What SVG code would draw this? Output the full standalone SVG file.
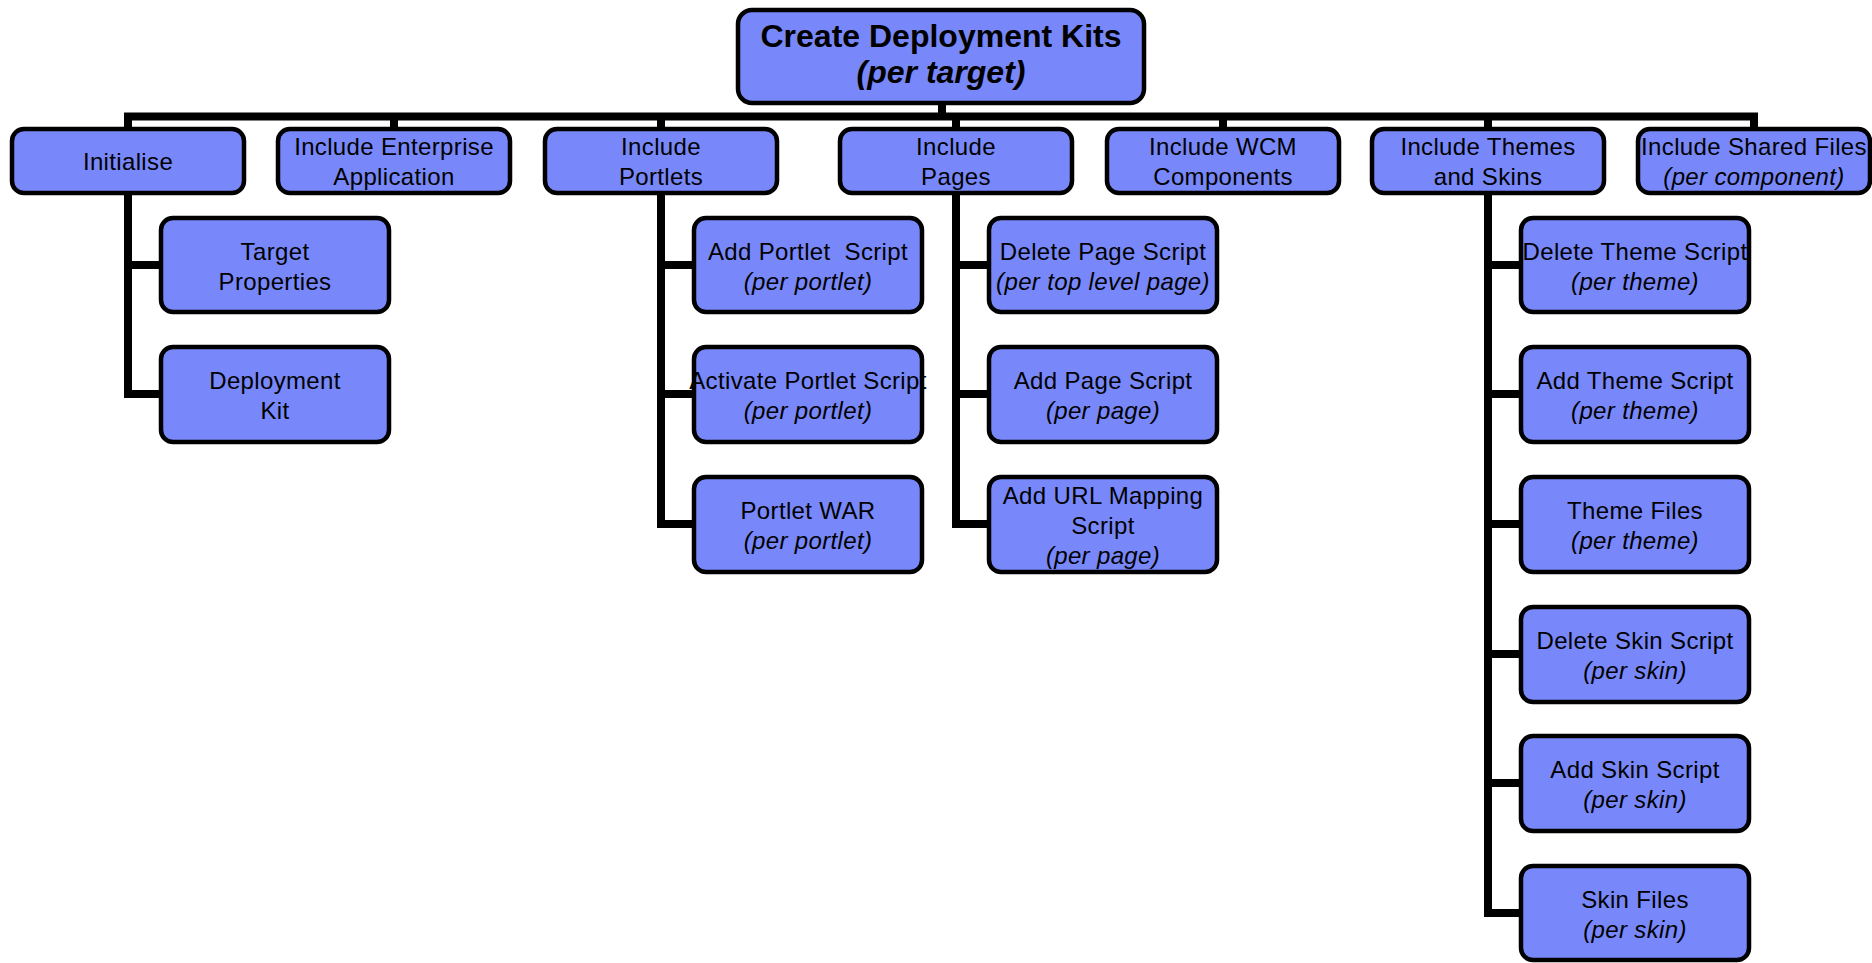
<svg xmlns="http://www.w3.org/2000/svg" width="1872" height="963" viewBox="0 0 1872 963">
<style>
.box{fill:#7888FA;stroke:#000;stroke-width:4.5}
.c{fill:none;stroke:#000;stroke-width:8;stroke-linejoin:miter;stroke-linecap:butt}
text{font-family:"Liberation Sans",Arial,sans-serif;font-size:24px;letter-spacing:0.35px;fill:#000;text-anchor:middle}
.i{font-style:italic}
.root{font-size:32px;font-weight:bold;letter-spacing:0}
</style>
<rect width="1872" height="963" fill="#fff"/>
<g id="connectors">
<path class="c" d="M942 105V117"/>
<path class="c" d="M128 129V116.5H1754V129"/>
<path class="c" d="M394 116V129M661 116V129M956 116V129M1223 116V129M1488 116V129"/>
<path class="c" d="M128 193V394H161M128 265H161"/>
<path class="c" d="M661 193V524H694M661 265H694M661 394H694"/>
<path class="c" d="M956 193V524H989M956 265H989M956 394H989"/>
<path class="c" d="M1488 193V913H1521M1488 265H1521M1488 394H1521M1488 524H1521M1488 654H1521M1488 783H1521"/>
</g>
<g id="root">
<rect class="box" x="738" y="10" width="406" height="93" rx="14"/>
<text class="root" x="941" y="47">Create Deployment Kits</text>
<text class="root i" x="941" y="83">(per target)</text>
</g>
<g id="initialise">
<rect class="box" x="12" y="129" width="232" height="64" rx="12"/>
<text x="128" y="170">Initialise</text>
</g>
<g id="enterprise">
<rect class="box" x="278" y="129" width="232" height="64" rx="12"/>
<text x="394" y="155">Include Enterprise</text>
<text x="394" y="185">Application</text>
</g>
<g id="portlets">
<rect class="box" x="545" y="129" width="232" height="64" rx="12"/>
<text x="661" y="155">Include</text>
<text x="661" y="185">Portlets</text>
</g>
<g id="pages">
<rect class="box" x="840" y="129" width="232" height="64" rx="12"/>
<text x="956" y="155">Include</text>
<text x="956" y="185">Pages</text>
</g>
<g id="wcm">
<rect class="box" x="1107" y="129" width="232" height="64" rx="12"/>
<text x="1223" y="155">Include WCM</text>
<text x="1223" y="185">Components</text>
</g>
<g id="themes">
<rect class="box" x="1372" y="129" width="232" height="64" rx="12"/>
<text x="1488" y="155">Include Themes</text>
<text x="1488" y="185">and Skins</text>
</g>
<g id="shared">
<rect class="box" x="1638" y="129" width="232" height="64" rx="12"/>
<text x="1754" y="155">Include Shared Files</text>
<text class="i" x="1754" y="185">(per component)</text>
</g>
<g id="target-properties">
<rect class="box" x="161" y="218" width="228" height="94" rx="12"/>
<text x="275" y="260">Target</text>
<text x="275" y="290">Properties</text>
</g>
<g id="deployment-kit">
<rect class="box" x="161" y="347" width="228" height="95" rx="12"/>
<text x="275" y="389">Deployment</text>
<text x="275" y="419">Kit</text>
</g>
<g id="add-portlet-script">
<rect class="box" x="694" y="218" width="228" height="94" rx="12"/>
<text x="808" y="260" style="white-space:pre">Add Portlet  Script</text>
<text class="i" x="808" y="290">(per portlet)</text>
</g>
<g id="activate-portlet-script">
<rect class="box" x="694" y="347" width="228" height="95" rx="12"/>
<text x="808" y="389">Activate Portlet Script</text>
<text class="i" x="808" y="419">(per portlet)</text>
</g>
<g id="portlet-war">
<rect class="box" x="694" y="477" width="228" height="95" rx="12"/>
<text x="808" y="519">Portlet WAR</text>
<text class="i" x="808" y="549">(per portlet)</text>
</g>
<g id="delete-page-script">
<rect class="box" x="989" y="218" width="228" height="94" rx="12"/>
<text x="1103" y="260">Delete Page Script</text>
<text class="i" x="1103" y="290">(per top level page)</text>
</g>
<g id="add-page-script">
<rect class="box" x="989" y="347" width="228" height="95" rx="12"/>
<text x="1103" y="389">Add Page Script</text>
<text class="i" x="1103" y="419">(per page)</text>
</g>
<g id="add-url-mapping-script">
<rect class="box" x="989" y="477" width="228" height="95" rx="12"/>
<text x="1103" y="504">Add URL Mapping</text>
<text x="1103" y="534">Script</text>
<text class="i" x="1103" y="564">(per page)</text>
</g>
<g id="delete-theme-script">
<rect class="box" x="1521" y="218" width="228" height="94" rx="12"/>
<text x="1635" y="260">Delete Theme Script</text>
<text class="i" x="1635" y="290">(per theme)</text>
</g>
<g id="add-theme-script">
<rect class="box" x="1521" y="347" width="228" height="95" rx="12"/>
<text x="1635" y="389">Add Theme Script</text>
<text class="i" x="1635" y="419">(per theme)</text>
</g>
<g id="theme-files">
<rect class="box" x="1521" y="477" width="228" height="95" rx="12"/>
<text x="1635" y="519">Theme Files</text>
<text class="i" x="1635" y="549">(per theme)</text>
</g>
<g id="delete-skin-script">
<rect class="box" x="1521" y="607" width="228" height="95" rx="12"/>
<text x="1635" y="649">Delete Skin Script</text>
<text class="i" x="1635" y="679">(per skin)</text>
</g>
<g id="add-skin-script">
<rect class="box" x="1521" y="736" width="228" height="95" rx="12"/>
<text x="1635" y="778">Add Skin Script</text>
<text class="i" x="1635" y="808">(per skin)</text>
</g>
<g id="skin-files">
<rect class="box" x="1521" y="866" width="228" height="94" rx="12"/>
<text x="1635" y="908">Skin Files</text>
<text class="i" x="1635" y="938">(per skin)</text>
</g>
</svg>
